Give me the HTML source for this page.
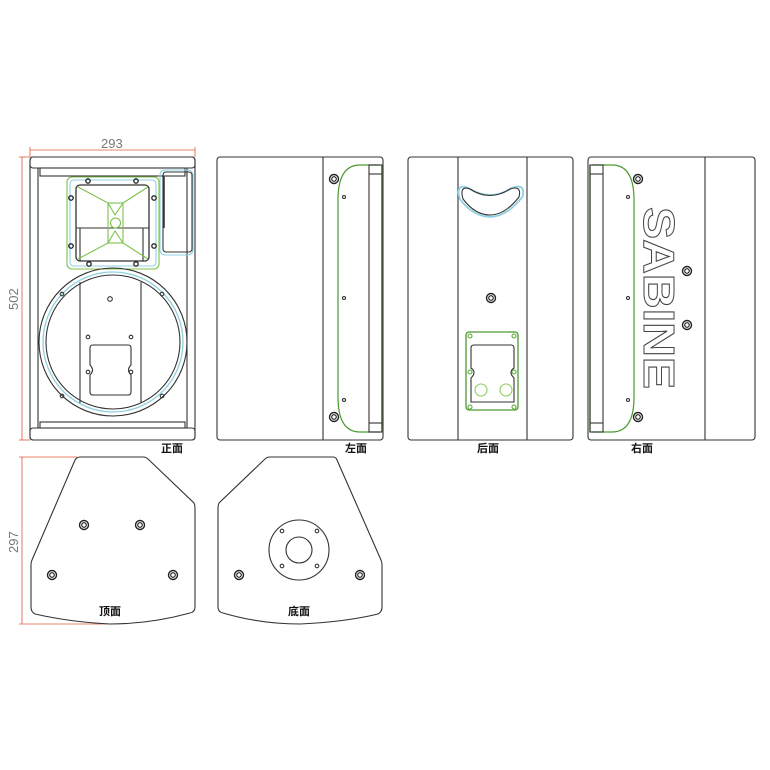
<!DOCTYPE html>
<html><head><meta charset="utf-8"><style>body{margin:0;background:#fff}svg{display:block}</style></head><body>
<svg width="770" height="770" viewBox="0 0 770 770" xmlns="http://www.w3.org/2000/svg" font-family="Liberation Sans, 'Noto Sans CJK SC', sans-serif">
<defs>
<g id="scr"><circle r="4.5" fill="none" stroke="#222" stroke-width="1.4"/><circle r="2.3" fill="none" stroke="#222" stroke-width="1.1"/></g>
<g id="gs"><circle r="2.2" fill="none" stroke="#222" stroke-width="1.3"/></g>
</defs>
<g fill="none" stroke="#333" stroke-width="1.1">
<g stroke="#e05a3a" stroke-width="0.8">
<line x1="30" y1="150" x2="195" y2="150"/><line x1="30" y1="147" x2="30" y2="157"/><line x1="195" y1="147" x2="195" y2="157"/>
<line x1="22" y1="157" x2="22" y2="440"/><line x1="19" y1="157" x2="30" y2="157"/><line x1="19" y1="440" x2="30" y2="440"/>
<line x1="22" y1="457" x2="22" y2="624"/><line x1="19" y1="457" x2="77" y2="457"/><line x1="19" y1="624" x2="110" y2="624"/>
</g>
<!-- FRONT -->
<rect x="30" y="157" width="165" height="283" rx="3"/>
<rect x="30" y="157" width="165" height="11" rx="3"/>
<rect x="30" y="428" width="165" height="12" rx="3"/>
<line x1="38" y1="168" x2="38" y2="428"/><line x1="187" y1="168" x2="187" y2="428"/>
<rect x="40" y="168" width="145" height="8"/>
<rect x="40" y="422" width="145" height="6"/>
<rect x="67" y="177" width="92" height="92" rx="5" stroke="#7cc04a"/>
<rect x="70" y="180" width="86" height="86" rx="4" stroke="#8fd0e0"/>
<rect x="76" y="185" width="73" height="76" rx="4" stroke-width="1.3"/>
<line x1="76" y1="228" x2="149" y2="228"/><line x1="80" y1="228" x2="80" y2="261"/><line x1="143" y1="228" x2="143" y2="261"/>
<g stroke="#7cc04a"><path d="M78 187 L108 203 L123 203 L148 187"/><path d="M78 259 L108 243 L123 243 L148 259"/><rect x="108" y="203" width="15" height="40"/><path d="M108 203 L115 215 L123 203 M108 243 L115 231 L123 243"/><circle cx="115.5" cy="223" r="5"/></g>
<g stroke="#222"><use href="#gs" x="88" y="181"/><use href="#gs" x="136" y="181"/><use href="#gs" x="71" y="198"/><use href="#gs" x="154" y="198"/><use href="#gs" x="71" y="246"/><use href="#gs" x="154" y="246"/><use href="#gs" x="89" y="264"/><use href="#gs" x="136" y="264"/></g>
<rect x="160" y="170" width="33" height="85" rx="5" stroke="#8fd0e0"/>
<rect x="163" y="172" width="29" height="80" rx="3"/>
<line x1="164" y1="176" x2="164" y2="228" stroke-width="1.5"/>
<circle cx="113" cy="342" r="74"/>
<circle cx="113" cy="342" r="70" stroke="#8fd0e0" stroke-width="1.3"/>
<circle cx="113" cy="342" r="67"/>
<line x1="80" y1="282" x2="80" y2="403"/><line x1="141" y1="282" x2="141" y2="403"/>
<circle cx="110" cy="299" r="2.3"/>
<circle cx="88" cy="337" r="1.8"/><circle cx="131" cy="337" r="1.8"/><circle cx="88" cy="372" r="1.8"/><circle cx="131" cy="372" r="1.8"/>
<circle cx="62" cy="294" r="1.8"/><circle cx="162" cy="294" r="1.8"/><circle cx="62" cy="396" r="1.8"/><circle cx="162" cy="396" r="1.8"/>
<path d="M93 345 H128 Q131 345 131 348 V365 Q126 370 131 375 V392 Q131 395 128 395 H93 Q90 395 90 392 V375 Q95 370 90 365 V348 Q90 345 93 345 Z"/>
<!-- LEFT -->
<rect x="217" y="157" width="166" height="283" rx="3"/>
<line x1="323" y1="157" x2="323" y2="440"/>
<path d="M380 165 H360 Q338 165 338 200 V397 Q338 432 360 432 H380" stroke="#4a9a30" stroke-width="1.2"/>
<line x1="382" y1="165" x2="382" y2="432" stroke="#7cc04a" stroke-width="1.5"/>
<rect x="369" y="165" width="13" height="267"/><line x1="369" y1="174" x2="382" y2="174"/><line x1="369" y1="423" x2="382" y2="423"/>
<use href="#scr" x="334" y="179"/><use href="#scr" x="334" y="417"/>
<circle cx="344" cy="197" r="1.5"/><circle cx="344" cy="298" r="1.5"/><circle cx="344" cy="400" r="1.5"/>
<!-- REAR -->
<rect x="408" y="157" width="165" height="283" rx="3"/>
<line x1="458" y1="157" x2="458" y2="440"/><line x1="527" y1="157" x2="527" y2="440"/>
<path d="M470 189 Q490 202 510 189 Q522 185 519 197 Q505 215 490 215 Q475 215 463 199 Q459 185 470 189 Z" stroke="#8fd0e0" stroke-width="1.6" transform="translate(490 200) scale(1.12) translate(-490 -200)"/>
<path d="M470 189 Q490 202 510 189 Q522 185 519 197 Q505 215 490 215 Q475 215 463 199 Q459 185 470 189 Z"/>
<use href="#scr" x="491" y="298"/>
<rect x="466" y="332" width="52" height="78" rx="3" stroke="#4a9a30" stroke-width="1.3"/>
<path d="M474 345 H511 Q514 345 514 348 V368 Q508 372 514 378 V402 H471 V378 Q477 372 471 368 V348 Q471 345 474 345 Z"/>
<g stroke="#5aaa35"><circle cx="470" cy="336" r="2"/><circle cx="514" cy="336" r="2"/><circle cx="470" cy="372" r="2"/><circle cx="514" cy="372" r="2"/><circle cx="470" cy="407" r="2"/><circle cx="514" cy="407" r="2"/></g>
<g stroke="#8ccf5a"><circle cx="481" cy="390" r="6"/><circle cx="506" cy="390" r="6"/></g>
<!-- RIGHT -->
<rect x="588" y="157" width="167" height="283" rx="3"/>
<line x1="705" y1="157" x2="705" y2="440"/>
<path d="M592 165 H612 Q634 165 634 200 V397 Q634 432 612 432 H592" stroke="#4a9a30" stroke-width="1.2"/>
<line x1="590" y1="165" x2="590" y2="432" stroke="#7cc04a" stroke-width="1.5"/>
<rect x="590" y="165" width="13" height="267"/><line x1="590" y1="174" x2="603" y2="174"/><line x1="590" y1="423" x2="603" y2="423"/>
<use href="#scr" x="638" y="179"/><use href="#scr" x="687" y="271"/><use href="#scr" x="687" y="325"/><use href="#scr" x="638" y="417"/>
<circle cx="628" cy="197" r="1.5"/><circle cx="628" cy="298" r="1.5"/><circle cx="628" cy="400" r="1.5"/>
<text x="207" y="-644" transform="rotate(90)" font-size="44" font-weight="bold" fill="#fff" stroke="#444" stroke-width="1" textLength="182" lengthAdjust="spacingAndGlyphs">SABINE</text>
<!-- TOP VIEW -->
<path d="M80 457 H143 Q146 457 148 459 L194 503 Q195 505 195 508 V607 Q195 612 190 613 Q150 624 110 624 Q70 622 35 614 Q31 612 31 607 V565 Q31 562 32 560 L75 460 Q77 457 80 457 Z"/>
<use href="#scr" x="84" y="525"/><use href="#scr" x="140" y="525"/><use href="#scr" x="52" y="575"/><use href="#scr" x="173" y="575"/>
<!-- BOTTOM VIEW -->
<path d="M270 457 H333 Q336 457 337 460 L381 560 Q382 562 382 565 V607 Q382 612 378 614 Q345 622 300 624 Q260 624 223 613 Q218 612 218 607 V508 Q218 505 219 503 L265 459 Q267 457 270 457 Z"/>
<circle cx="299" cy="550" r="30"/><circle cx="299" cy="550" r="13"/>
<circle cx="282" cy="531" r="1.8"/><circle cx="317" cy="531" r="1.8"/><circle cx="282" cy="566" r="1.8"/><circle cx="317" cy="566" r="1.8"/>
<use href="#scr" x="239" y="575"/><use href="#scr" x="360" y="575"/>
</g>
<g font-size="13" fill="#777">
<text x="101" y="148">293</text>
<text x="18" y="310" transform="rotate(-90 18 310)">502</text>
<text x="18" y="553" transform="rotate(-90 18 553)">297</text>
</g>
<g font-size="11" font-weight="bold" fill="#111" text-anchor="middle">
<text x="172" y="452">正面</text><text x="356" y="452">左面</text><text x="488" y="452">后面</text><text x="642" y="452">右面</text>
<text x="110" y="615">顶面</text><text x="299" y="615">底面</text>
</g>
</svg>
</body></html>
